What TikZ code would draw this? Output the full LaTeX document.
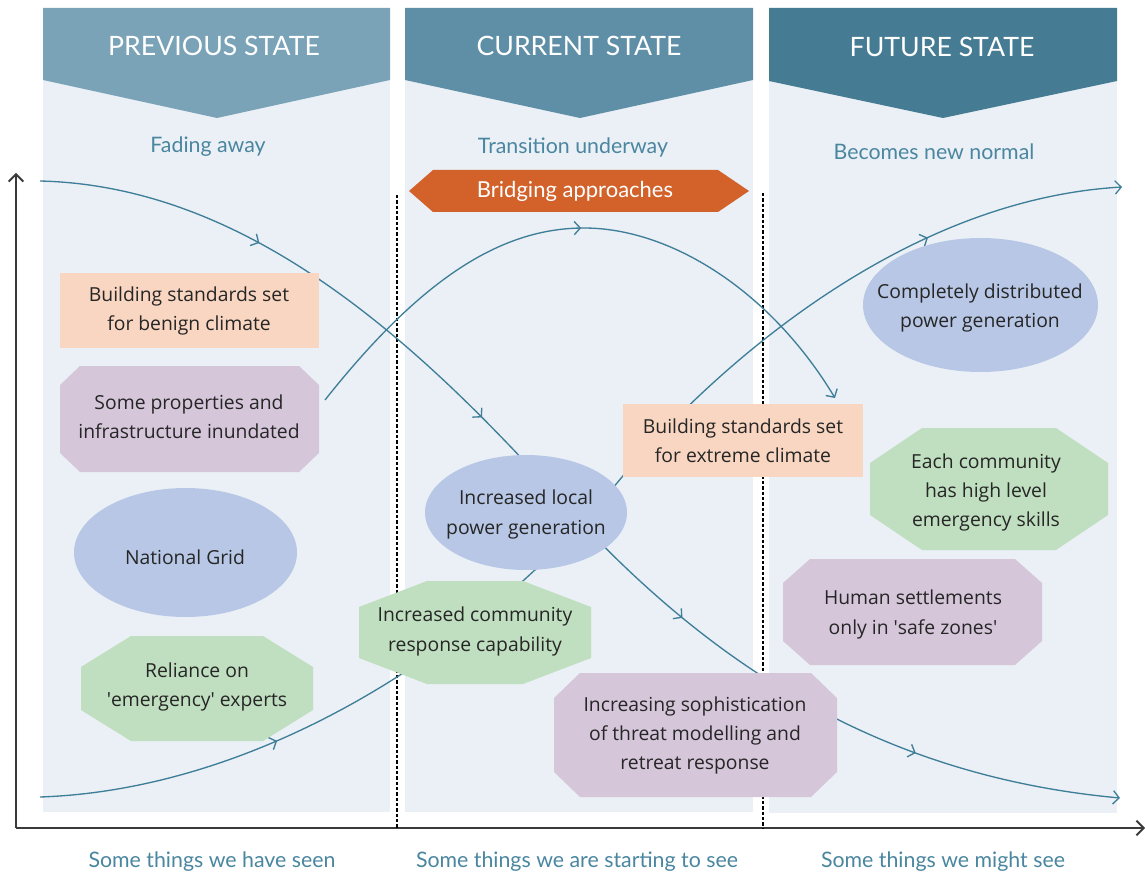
\documentclass[tikz,border=0pt]{standalone}
\usepackage{fontspec}
\setmainfont{Open Sans}
\newfontfamily\headfont{Lato}
\usetikzlibrary{arrows.meta,decorations.markings}

\definecolor{panelbg}{HTML}{EAF0F5}
\definecolor{headA}{HTML}{7BA3B8}
\definecolor{headB}{HTML}{5F8FA7}
\definecolor{headC}{HTML}{467C93}
\definecolor{subtxt}{HTML}{4A86A0}
\definecolor{peach}{HTML}{F9D6C1}
\definecolor{lav}{HTML}{D5C6DA}
\definecolor{blueel}{HTML}{B7C7E5}
\definecolor{greenoct}{HTML}{C0DFC0}
\definecolor{orangeb}{HTML}{D2622A}
\definecolor{curvec}{HTML}{3F7E98}
\definecolor{axisc}{HTML}{3A3A3A}
\definecolor{bodytxt}{HTML}{262626}

\newcommand\octshape[7]{% cx cy w h cutx cuty colour
  \fill[#7] ({#1-#3/2+#5},{#2-#4/2}) -- ({#1+#3/2-#5},{#2-#4/2}) -- ({#1+#3/2},{#2-#4/2+#6}) -- ({#1+#3/2},{#2+#4/2-#6}) -- ({#1+#3/2-#5},{#2+#4/2}) -- ({#1-#3/2+#5},{#2+#4/2}) -- ({#1-#3/2},{#2+#4/2-#6}) -- ({#1-#3/2},{#2-#4/2+#6}) -- cycle;}

\tikzset{
  >={Straight Barb[length=4.5pt,width=10pt]},
  panel/.style={fill=panelbg},
  headtxt/.style={text=white, inner sep=0pt, font=\headfont\fontsize{20}{24}\selectfont},
  subtitle/.style={text=subtxt, inner sep=0pt, font=\headfont\fontsize{16}{19}\selectfont},
  bridgetxt/.style={text=white, inner sep=0pt, font=\headfont\fontsize{16.5}{19}\selectfont},
  boxtxt/.style={text=bodytxt, align=center, inner sep=0pt, font=\fontsize{14.5}{22}\selectfont},
  trend/.style={draw=curvec, line width=1pt},
  axisline/.style={draw=axisc, line width=1.4pt, -{Straight Barb[length=5.5pt,width=11pt]}},
  dashline/.style={draw=black, line width=0.9pt, dash pattern=on 2.5pt off 1.5pt},
}

\begin{document}
\begin{tikzpicture}[x=0.75pt,y=-0.75pt]
\fill[white] (0,0) rectangle (1145,877);
\useasboundingbox (0,0) rectangle (1145,877);

% panels
\fill[panel] (43,8) rectangle (390,812);
\fill[panel] (405,8) rectangle (753,812);
\fill[panel] (769,8) rectangle (1117,813);

% headers
\fill[headA] (43,8) -- (390,8) -- (390,80) -- (217,118) -- (43,80) -- cycle;
\fill[headB] (405,8) -- (753,8) -- (753,80) -- (580,118) -- (405,80) -- cycle;
\fill[headC] (769,8) -- (1117,8) -- (1117,81) -- (943,118) -- (769,81) -- cycle;
\node[headtxt] (h1) at (214,46) {PREVIOUS STATE};
\node[headtxt] (h2) at (579,46) {CURRENT STATE};
\node[headtxt] (h3) at (942,47) {FUTURE STATE};

\node[subtitle] (s1) at (208,147) {Fading away};
\node[subtitle] (s2) at (573,147) {Transition underway};
\node[subtitle] (s3) at (934,152) {Becomes new normal};

% bridging approaches
\fill[orangeb] (409,191) -- (433,170) -- (718,170) -- (749,191) -- (718,212) -- (433,212) -- cycle;
\node[bridgetxt] (bridge) at (575,191) {Bridging approaches};

% axes
\coordinate (origin) at (16,828);
\coordinate (ytop) at (16,173);
\coordinate (xend) at (1145,828);
\draw[axisline] (origin) -- (ytop);
\draw[axisline] (origin) -- (xend);

% dashed separators
\coordinate (d1t) at (397,195); \coordinate (d1b) at (397,828);
\coordinate (d2t) at (763,193); \coordinate (d2b) at (763,828);
\draw[dashline] (d1t) -- (d1b);
\draw[dashline] (d2t) -- (d2b);

% trend curves
\coordinate (fadeS) at (40,181);
\coordinate (fadeM) at (560,500);
\coordinate (fadeE) at (1120,798);
\draw[trend, ->, postaction={decorate, decoration={markings,
   mark=at position 0.180 with {\arrow{>}},
   mark=at position 0.402 with {\arrow{>}},
   mark=at position 0.624 with {\arrow{>}},
   mark=at position 0.836 with {\arrow{>}}}}]
  (fadeS) .. controls (250,186) and (420,345) .. (fadeM)
          .. controls (700,655) and (870,775) .. (fadeE);

\coordinate (bellS) at (325,400);
\coordinate (bellM) at (584,228);
\coordinate (bellE) at (835,398);
\draw[trend, ->, postaction={decorate, decoration={markings,
   mark=at position 0.5 with {\arrow{>}}}}]
  (bellS) .. controls (420,280) and (500,228) .. (bellM)
          .. controls (670,228) and (770,290) .. (bellE);

\coordinate (riseS) at (40,797);
\coordinate (riseM) at (617,483);
\coordinate (riseE) at (1122,187);
\draw[trend, ->, postaction={decorate, decoration={markings,
   mark=at position 0.192 with {\arrow{>}},
   mark=at position 0.842 with {\arrow{>}}}}]
  (riseS) .. controls (250,790) and (470,660) .. (riseM)
          .. controls (710,371) and (900,200) .. (riseE);

% shapes
\fill[peach] (60,273) rectangle (319,348);
\node[boxtxt] (benign) at (189,311) {Building standards set\\for benign climate};

\octshape{189.5}{419}{259}{106}{20}{19}{lav}
\node[boxtxt] (inund) at (189,417) {Some properties and\\infrastructure inundated};

\fill[blueel] (185.5,552.5) ellipse [x radius=111.5, y radius=64.5];
\node[boxtxt] (grid) at (185,557) {National Grid};

\octshape{197}{688.5}{232}{105}{50}{31}{greenoct}
\node[boxtxt] (reliance) at (197,687) {Reliance on\\\textquotesingle emergency\textquotesingle\ experts};

\octshape{475}{632.5}{232}{103}{68}{26}{greenoct}
\node[boxtxt] (commresp) at (475,631.5) {Increased community\\response capability};

\fill[blueel] (526,512.5) ellipse [x radius=101, y radius=57.5];
\node[boxtxt] (localpow) at (526,514.5) {Increased local\\power generation};

\fill[peach] (623,404) rectangle (863,477);
\node[boxtxt] (extreme) at (743,441) {Building standards set\\for extreme climate};

\octshape{695.5}{735}{283}{124}{26}{25}{lav}
\node[boxtxt] (sophist) at (695,735.5) {Increasing sophistication\\of threat modelling and\\retreat response};

\fill[blueel] (980.5,305) ellipse [x radius=117.5, y radius=67];
\node[boxtxt] (distrib) at (980,308) {Completely distributed\\power generation};

\octshape{989}{489}{238}{122}{52}{35}{greenoct}
\node[boxtxt] (eachcomm) at (986,492.5) {Each community\\has high level\\emergency skills};

\octshape{912.5}{612}{259}{106}{27}{24}{lav}
\node[boxtxt] (settle) at (913,614.5) {Human settlements\\only in \textquotesingle safe zones\textquotesingle};

% bottom labels
\node[subtitle] (b1) at (212,862) {Some things we have seen};
\node[subtitle] (b2) at (577,862) {Some things we are starting to see};
\node[subtitle] (b3) at (943,862) {Some things we might see};
\end{tikzpicture}
\end{document}
